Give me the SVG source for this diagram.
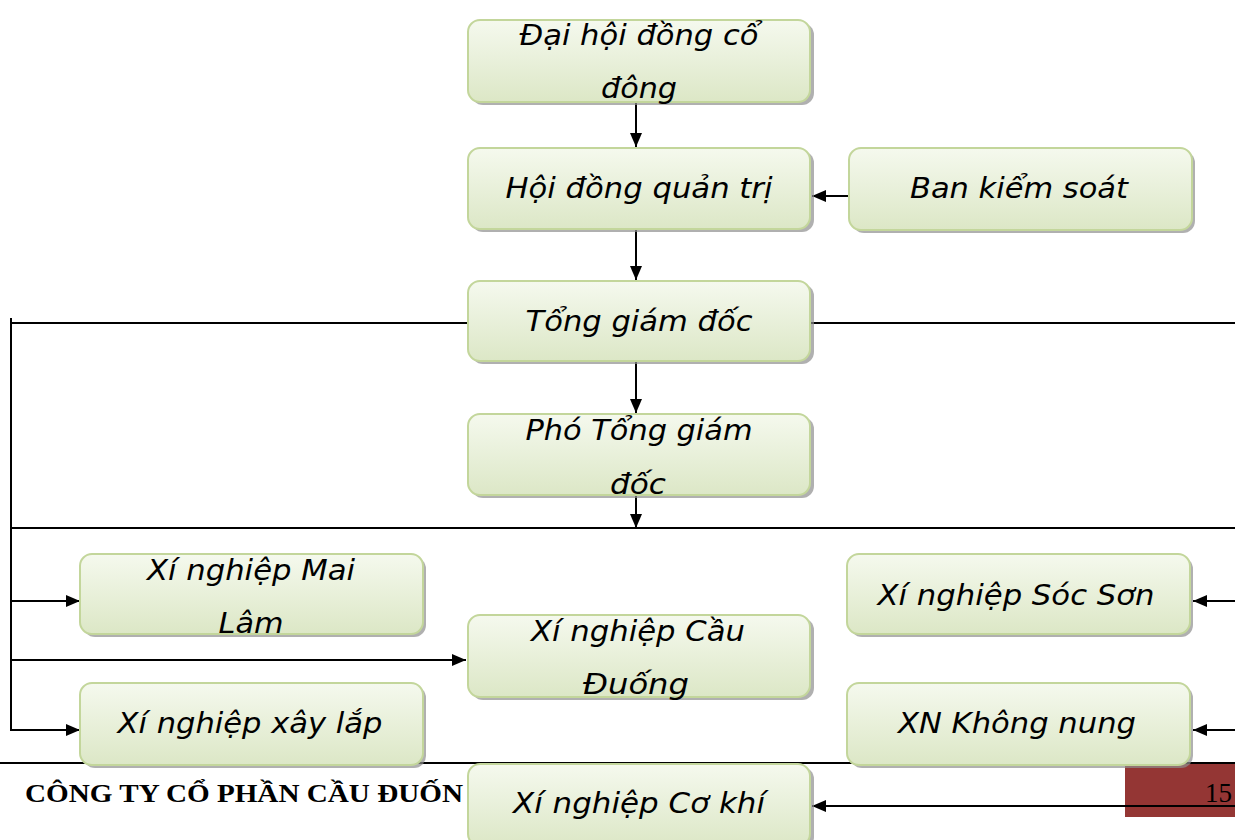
<svg xmlns="http://www.w3.org/2000/svg" width="1235" height="840" viewBox="0 0 1235 840">
<defs>
<linearGradient id="g" x1="0" y1="0" x2="0" y2="1">
<stop offset="0" stop-color="#f5f9ee"/>
<stop offset="1" stop-color="#dce7c6"/>
</linearGradient>
<marker id="ah" viewBox="0 0 14 12" refX="14" refY="6" markerWidth="14" markerHeight="12" markerUnits="userSpaceOnUse" orient="auto">
<path d="M0,0 L14,6 L0,12 Z" fill="#000"/>
</marker>
</defs>
<style>
.box{fill:url(#g);stroke:#c3d69b;stroke-width:2}
.sh{fill:#8f8f8f;opacity:0.7}
.t{font-family:"DejaVu Sans",sans-serif;font-style:italic;font-size:28px;fill:#000;text-anchor:middle}
.c{stroke:#000;stroke-width:2;fill:none}
.a{stroke:#000;stroke-width:2;fill:none;marker-end:url(#ah)}
</style>
<rect width="1235" height="840" fill="#fff"/>
<g id="footer">
<rect x="1125" y="763" width="110" height="54" fill="#943634"/>
<text x="25" y="802" font-family="Liberation Serif, serif" font-weight="bold" font-size="26" textLength="438" lengthAdjust="spacingAndGlyphs">CÔNG TY CỔ PHẦN CẦU ĐUỐN</text>
<text x="1205" y="802" font-family="Liberation Serif, serif" font-size="28" fill="#000" textLength="27" lengthAdjust="spacingAndGlyphs">15</text>
</g>
<g id="connectors">
<line class="c" x1="0" y1="763" x2="1235" y2="763"/>
<line class="a" x1="636" y1="103" x2="636" y2="147"/>
<line class="a" x1="849" y1="196" x2="812" y2="196"/>
<line class="a" x1="636" y1="230" x2="636" y2="280"/>
<line class="c" x1="11" y1="323" x2="468" y2="323"/>
<line class="c" x1="810" y1="323" x2="1235" y2="323"/>
<line class="c" x1="11" y1="318" x2="11" y2="731"/>
<line class="a" x1="636" y1="362" x2="636" y2="413"/>
<line class="a" x1="636" y1="495" x2="636" y2="528"/>
<line class="c" x1="11" y1="528" x2="1235" y2="528"/>
<line class="a" x1="10" y1="601" x2="80" y2="601"/>
<line class="a" x1="10" y1="660" x2="466" y2="660"/>
<line class="a" x1="10" y1="730" x2="80" y2="730"/>
<line class="a" x1="1235" y1="601" x2="1193" y2="601"/>
<line class="a" x1="1235" y1="730" x2="1193" y2="730"/>
<line class="a" x1="1235" y1="806" x2="812" y2="806"/>
</g>
<g id="n1"><rect class="sh" x="471" y="23" width="343" height="82" rx="12"/><rect class="box" x="468" y="20" width="342" height="82" rx="12"/><text class="t" x="639" y="45" textLength="239" lengthAdjust="spacingAndGlyphs">Đại hội đồng cổ</text><text class="t" x="639" y="98" textLength="76" lengthAdjust="spacingAndGlyphs">đông</text></g>
<g id="n2"><rect class="sh" x="471" y="151" width="343" height="81" rx="12"/><rect class="box" x="468" y="148" width="342" height="81" rx="12"/><text class="t" x="639" y="198" textLength="267" lengthAdjust="spacingAndGlyphs">Hội đồng quản trị</text></g>
<g id="n3"><rect class="sh" x="852" y="151" width="343" height="82" rx="12"/><rect class="box" x="849" y="148" width="343" height="82" rx="12"/><text class="t" x="1019" y="198" textLength="218" lengthAdjust="spacingAndGlyphs">Ban kiểm soát</text></g>
<g id="n4"><rect class="sh" x="471" y="284" width="343" height="80" rx="12"/><rect class="box" x="468" y="281" width="342" height="80" rx="12"/><text class="t" x="639" y="331" textLength="227" lengthAdjust="spacingAndGlyphs">Tổng giám đốc</text></g>
<g id="n5"><rect class="sh" x="471" y="417" width="343" height="81" rx="12"/><rect class="box" x="468" y="414" width="342" height="81" rx="12"/><text class="t" x="639" y="440" textLength="227" lengthAdjust="spacingAndGlyphs">Phó Tổng giám</text><text class="t" x="638" y="494" textLength="56" lengthAdjust="spacingAndGlyphs">đốc</text></g>
<g id="n6"><rect class="sh" x="83" y="557" width="343" height="80" rx="12"/><rect class="box" x="80" y="554" width="343" height="80" rx="12"/><text class="t" x="251" y="580" textLength="208" lengthAdjust="spacingAndGlyphs">Xí nghiệp Mai</text><text class="t" x="251" y="633" textLength="65" lengthAdjust="spacingAndGlyphs">Lâm</text></g>
<g id="n7"><rect class="sh" x="471" y="618" width="343" height="82" rx="12"/><rect class="box" x="468" y="615" width="342" height="82" rx="12"/><text class="t" x="638" y="641" textLength="214" lengthAdjust="spacingAndGlyphs">Xí nghiệp Cầu</text><text class="t" x="636" y="694" textLength="106" lengthAdjust="spacingAndGlyphs">Đuống</text></g>
<g id="n8"><rect class="sh" x="83" y="686" width="343" height="82" rx="12"/><rect class="box" x="80" y="683" width="343" height="82" rx="12"/><text class="t" x="250" y="733" textLength="265" lengthAdjust="spacingAndGlyphs">Xí nghiệp xây lắp</text></g>
<g id="n9"><rect class="sh" x="850" y="557" width="343" height="80" rx="12"/><rect class="box" x="847" y="554" width="343" height="80" rx="12"/><text class="t" x="1016" y="605" textLength="277" lengthAdjust="spacingAndGlyphs">Xí nghiệp Sóc Sơn</text></g>
<g id="n10"><rect class="sh" x="850" y="686" width="343" height="82" rx="12"/><rect class="box" x="847" y="683" width="343" height="82" rx="12"/><text class="t" x="1017" y="733" textLength="238" lengthAdjust="spacingAndGlyphs">XN Không nung</text></g>
<g id="n11"><rect class="sh" x="471" y="767" width="343" height="82" rx="12"/><rect class="box" x="468" y="764" width="342" height="82" rx="12"/><text class="t" x="639" y="813" textLength="252" lengthAdjust="spacingAndGlyphs">Xí nghiệp Cơ khí</text></g>
</svg>
